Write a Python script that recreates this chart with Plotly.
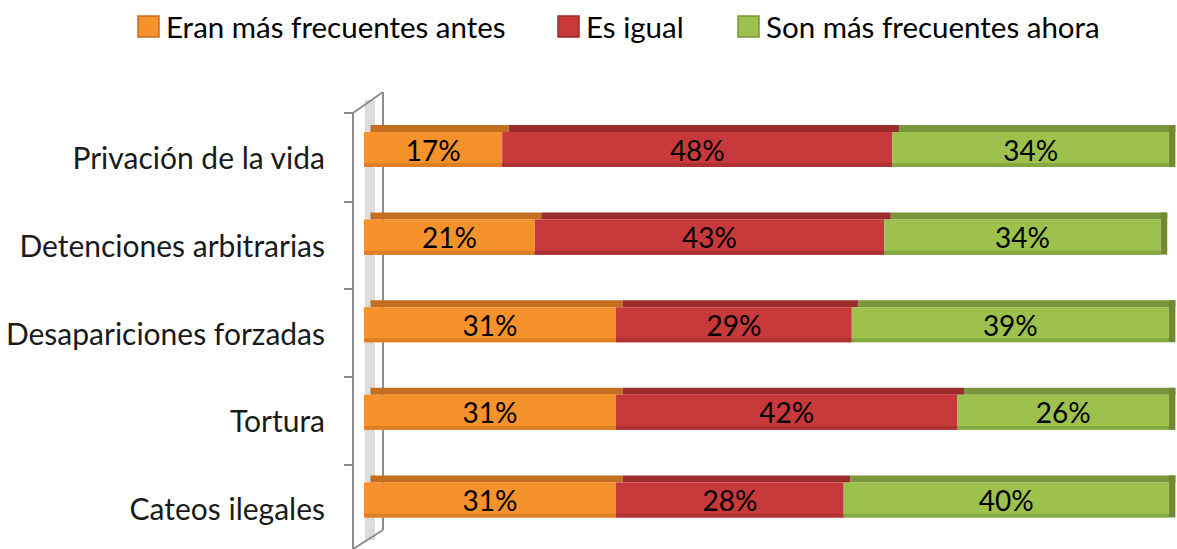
import numpy as np
import plotly.graph_objects as go

# ---- data ----
categories = ["Privación de la vida", "Detenciones arbitrarias",
              "Desapariciones forzadas", "Tortura", "Cateos ilegales"]
antes = [17, 21, 31, 31, 31]
igual = [48, 43, 29, 42, 28]
ahora = [34, 34, 39, 26, 40]
series_names = ["Eran más frecuentes antes", "Es igual", "Son más frecuentes ahora"]

# ---- styling ----
W, H = 1177, 549
ML, MR, MT, MB = 364, 0, 111, 0
FONT = "Lato"
front_cols = ["#F5922B", "#C7393B", "#9CC24D"]
shade_cols = ["#DD7F22", "#AE3133", "#86A840"]
top_cols = ["#C46F1F", "#9B2C2C", "#7A963A"]
side_col = "#6F8A30"

series = [antes, igual, ahora]
vals = np.array(series, dtype=float)
starts = np.vstack([np.zeros(len(categories)), np.cumsum(vals, axis=0)[:-1]])
totals = vals.sum(axis=0)

FRONT_OFF, FRONT_W = -0.14, 0.40
TOP_OFF, TOP_W = 0.26, 0.08
SHADE_W = 0.045
SKEW = 0.8

fig = go.Figure()
for i, name in enumerate(series_names):
    # top face
    fig.add_trace(go.Bar(
        y=categories, x=vals[i], base=starts[i] + SKEW, orientation="h",
        offset=TOP_OFF, width=TOP_W, marker=dict(color=top_cols[i], line=dict(width=0)),
        showlegend=False, hoverinfo="skip"))
for i, name in enumerate(series_names):
    # front face
    fig.add_trace(go.Bar(
        y=categories, x=vals[i], base=starts[i], orientation="h",
        offset=FRONT_OFF, width=FRONT_W, name=name,
        marker=dict(color=front_cols[i], line=dict(width=0)),
        showlegend=False, hoverinfo="skip"))
    # darker lower edge of the front face
    fig.add_trace(go.Bar(
        y=categories, x=vals[i], base=starts[i], orientation="h",
        offset=FRONT_OFF, width=SHADE_W,
        marker=dict(color=shade_cols[i], line=dict(width=0)),
        showlegend=False, hoverinfo="skip"))
for i, name in enumerate(series_names):
    # value labels
    fig.add_trace(go.Bar(
        y=categories, x=vals[i], base=starts[i], orientation="h",
        offset=FRONT_OFF, width=FRONT_W, name=name,
        marker=dict(color="rgba(0,0,0,0)", line=dict(width=0)),
        text=[f"{v:.0f}%" for v in vals[i]], textposition="inside",
        insidetextanchor="middle", constraintext="none",
        textfont=dict(family=FONT, size=28, color="#000000"),
        showlegend=False,
        hovertemplate="%{y}<br>" + name + ": %{x}%<extra></extra>"))
# side face of the stack end
fig.add_trace(go.Bar(
    y=categories, x=[SKEW] * len(categories), base=totals, orientation="h",
    offset=FRONT_OFF, width=FRONT_W + TOP_W,
    marker=dict(color=side_col, line=dict(width=0)),
    showlegend=False, hoverinfo="skip"))

# ---- helpers for pixel -> paper ----
PW = W - ML - MR
PH = H - MT - MB
def px(xpix):
    return (xpix - ML) / PW
def py(ypix):
    return (H - MB - ypix) / PH

shapes = []
gray = "#8C8C8C"
# 3D wall decoration
shapes.append(dict(type="rect", xref="paper", yref="paper",
                   x0=px(365), x1=px(375), y0=py(540), y1=py(100),
                   fillcolor="#DCDCDC", line=dict(width=0), layer="below"))
for (x0, y0, x1, y1) in [(353, 113, 353, 549), (383, 92, 383, 530),
                         (353, 113, 383, 92), (383, 530, 353, 549)]:
    shapes.append(dict(type="line", xref="paper", yref="paper",
                       x0=px(x0), y0=py(y0), x1=px(x1), y1=py(y1),
                       line=dict(color=gray, width=2), layer="below"))
for ty in [113, 202, 289, 377, 465]:
    shapes.append(dict(type="line", xref="paper", yref="paper",
                       x0=px(344), y0=py(ty), x1=px(353), y1=py(ty),
                       line=dict(color=gray, width=2), layer="below"))

# ---- manual legend ----
legend_x = [138, 558, 738]
annotations = []
for i, name in enumerate(series_names):
    x0 = legend_x[i]
    shapes.append(dict(type="rect", xref="paper", yref="paper",
                       x0=px(x0), x1=px(x0 + 21), y0=py(37), y1=py(16),
                       fillcolor=front_cols[i], line=dict(color=top_cols[i], width=1.5)))
    annotations.append(dict(xref="paper", yref="paper", x=px(x0 + 26), y=py(27),
                            xanchor="left", yanchor="middle", showarrow=False,
                            text=name, font=dict(family=FONT, size=29.5, color="#000000")))

fig.update_layout(
    width=W, height=H,
    margin=dict(l=ML, r=MR, t=MT, b=MB, pad=0, autoexpand=False),
    barmode="overlay",
    plot_bgcolor="white", paper_bgcolor="white",
    showlegend=False,
    shapes=shapes, annotations=annotations,
    xaxis=dict(range=[0, 100], visible=False, fixedrange=True, automargin=False),
    yaxis=dict(categoryorder="array", categoryarray=categories[::-1], automargin=False,
               range=[-0.5, 4.5], showgrid=False, zeroline=False, showline=False,
               ticks="", ticklabelstandoff=38, ticklabelshift=4,
               tickfont=dict(family=FONT, size=30, color="#1A1A1A"), fixedrange=True),
    font=dict(family=FONT),
)

fig.write_html("out.html", config={"displayModeBar": False},
               post_script="document.body.style.margin='0';")
